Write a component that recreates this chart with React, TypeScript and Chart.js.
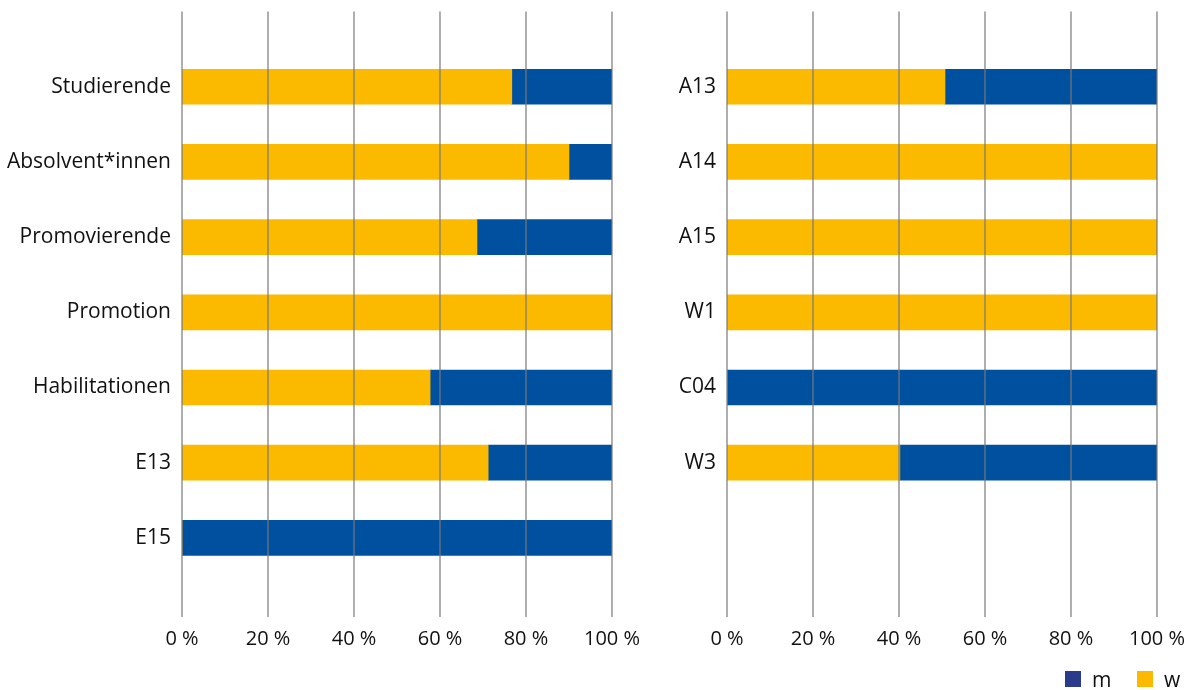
import React, { useEffect, useRef } from "react";
import { Chart, registerables } from "chart.js";

Chart.register(...registerables);

const categoriesLeft = ["Studierende", "Absolvent*innen", "Promovierende", "Promotion", "Habilitationen", "E13", "E15"];
const wLeft = [76.7, 90, 68.6, 100, 57.7, 71.2, 0];
const mLeft = [23.3, 10, 31.4, 0, 42.3, 28.8, 100];

const categoriesRight = ["A13", "A14", "A15", "W1", "C04", "W3"];
const wRight = [50.7, 100, 100, 100, 0, 40.2];
const mRight = [49.3, 0, 0, 0, 100, 59.8];

const xTicks = [0, 20, 40, 60, 80, 100];
const legendLabels = ["m", "w"];

const YELLOW = "#FBBA00";
const BLUE = "#0050A0";
const LEGEND_BLUE = "#2B3A8A";
const FONT = "'Open Sans', 'Noto Sans', sans-serif";
const TEXT = "#111111";

const gridOnTop = {
  id: "gridOnTop",
  afterDatasetsDraw(chart: any) {
    const { ctx, chartArea, scales } = chart;
    const x = scales.x;
    ctx.save();
    ctx.strokeStyle = "rgba(120,120,120,0.8)";
    ctx.lineWidth = 1.5;
    xTicks.forEach((v) => {
      const px = x.getPixelForValue(v);
      ctx.beginPath();
      ctx.moveTo(px, chartArea.top);
      ctx.lineTo(px, chartArea.bottom + 4);
      ctx.stroke();
    });
    ctx.restore();
  },
};

function pad(arr: any[], total: number) {
  const out: any[] = [null, ...arr];
  while (out.length < total) out.push(null);
  return out;
}

function makeConfig(cats: string[], w: number[], m: number[]) {
  const labels = pad(cats, 9).map((v) => (v === null ? "" : v));
  return {
    type: "bar" as const,
    data: {
      labels,
      datasets: [
        { label: "w", data: pad(w, 9), backgroundColor: YELLOW, barThickness: 35, borderWidth: 0 },
        { label: "m", data: pad(m, 9), backgroundColor: BLUE, barThickness: 35, borderWidth: 0 },
      ],
    },
    options: {
      indexAxis: "y" as const,
      responsive: false,
      animation: false as const,
      layout: { padding: { top: 0, bottom: 9, left: 0, right: 0 } },
      plugins: { legend: { display: false }, tooltip: { enabled: false } },
      scales: {
        x: {
          stacked: true,
          min: 0,
          max: 100,
          border: { display: false },
          grid: { display: false, drawTicks: false },
          ticks: {
            stepSize: 20,
            padding: 14,
            color: TEXT,
            font: { family: FONT, size: 20 },
            callback: (v: any) => v + " %",
          },
        },
        y: {
          stacked: true,
          offset: false,
          border: { display: false },
          grid: { display: false, drawTicks: false },
          ticks: {
            padding: 11,
            autoSkip: false,
            color: TEXT,
            font: { family: FONT, size: 21 },
          },
          afterFit: (scale: any) => {
            scale.width = 182;
          },
        },
      },
    },
    plugins: [gridOnTop],
  };
}

function BarChart({ cats, w, m, width, height }: any) {
  const ref = useRef<HTMLCanvasElement>(null);
  useEffect(() => {
    const cfg: any = makeConfig(cats, w, m);
    const chart = new Chart(ref.current as HTMLCanvasElement, cfg);
    return () => chart.destroy();
  }, []);
  return <canvas ref={ref} width={width} height={height} style={{ display: "block" }} />;
}

export default function App() {
  return (
    <div style={{ position: "absolute", left: 0, top: 0, width: 1185, height: 690, background: "#fff", overflow: "hidden" }}>
      <div style={{ position: "absolute", left: 0, top: -12 }}>
        <BarChart cats={categoriesLeft} w={wLeft} m={mLeft} width={654} height={686} />
      </div>
      <div style={{ position: "absolute", left: 545, top: -12 }}>
        <BarChart cats={categoriesRight} w={wRight} m={mRight} width={654} height={686} />
      </div>
      <div
        style={{
          position: "absolute",
          left: 1065,
          top: 667,
          display: "flex",
          alignItems: "center",
          fontFamily: FONT,
          fontSize: 21,
          color: TEXT,
          lineHeight: "24px",
        }}
      >
        <span style={{ width: 16, height: 16, background: LEGEND_BLUE, display: "inline-block" }} />
        <span style={{ marginLeft: 11, width: 45 }}>{legendLabels[0]}</span>
        <span style={{ width: 16, height: 16, background: YELLOW, display: "inline-block" }} />
        <span style={{ marginLeft: 11 }}>{legendLabels[1]}</span>
      </div>
    </div>
  );
}
